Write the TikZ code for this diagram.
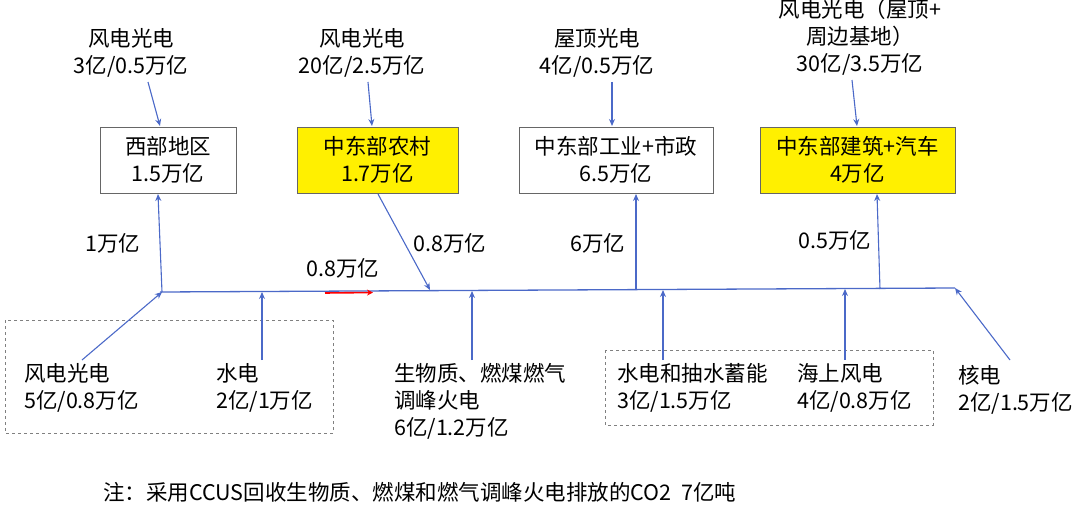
\documentclass[tikz,border=0pt]{standalone}
\usepackage{fontspec}
\setmainfont{Noto Sans CJK SC}
\usetikzlibrary{arrows.meta}
\definecolor{ln}{RGB}{75,105,200}
\definecolor{yl}{RGB}{255,240,0}
\begin{document}
\begin{tikzpicture}[x=1pt,y=-1pt,font=\fontsize{21.5}{27}\selectfont,
 arr/.style={ln,line width=1.1pt,-{Stealth[length=7pt,width=6pt]}},
 box/.style={draw=gray!80!black,line width=0.6pt,minimum height=66pt,align=center,inner sep=0pt},
 txt/.style={align=left,inner sep=0pt,anchor=north west},
 ctr/.style={align=center,inner sep=0pt}]
\useasboundingbox (0,0) rectangle (1080,511);
% main line
\coordinate (L) at (160,292); \coordinate (R) at (955,288);
\draw[ln,line width=1.3pt] (L) -- (R);
\draw[red,line width=1.6pt,-{Stealth[length=6pt,width=6pt]}] (325,293) -- (373,292.5);
% boxes
\node[box,minimum width=136pt] (b1) at (168,160) {西部地区\\1.5万亿};
\node[box,fill=yl,minimum width=161pt] (b2) at (377.5,160) {中东部农村\\1.7万亿};
\node[box,minimum width=194pt] (b3) at (616,160) {中东部工业+市政\\6.5万亿};
\node[box,fill=yl,minimum width=195pt] (b4) at (857.5,160) {中东部建筑+汽车\\4万亿};
% top labels
\node[ctr] (t1) at (131,53) {风电光电\\3亿/0.5万亿};
\node[ctr] (t2) at (362,53) {风电光电\\20亿/2.5万亿};
\node[ctr] (t3) at (597,53) {屋顶光电\\4亿/0.5万亿};
\node[ctr] (t4) at (860,37) {风电光电（屋顶+\\周边基地）\\30亿/3.5万亿};
\draw[arr] (148,82) -- (160,126);
\draw[arr] (368,82) -- (372,126);
\draw[arr] (612,82) -- (612,126);
\draw[arr] (852,80) -- (857,126);
% flows to/from line
\coordinate (p1) at (162,292); \coordinate (p2) at (430,290); \coordinate (p3) at (636,290); \coordinate (p4) at (880,289);
\draw[arr] (p1) -- (158,194);
\draw[arr] (378,194) -- (p2);
\draw[arr] (p3) -- (636,194);
\draw[arr] (p4) -- (877,194);
\node[ctr] (l1) at (113,243) {1万亿};
\node[ctr] (l2) at (450,243) {0.8万亿};
\node[ctr] (l3) at (343,268) {0.8万亿};
\node[ctr] (l4) at (598,243) {6万亿};
\node[ctr] (l5) at (835,240) {0.5万亿};
% bottom
\draw[gray,dashed,line width=0.7pt] (5,320) rectangle (333,433);
\draw[gray,dashed,line width=0.7pt] (605,350) rectangle (933,425);
\node[txt] (s1) at (24,363) {风电光电\\5亿/0.8万亿};
\node[txt] (s2) at (216,363) {水电\\2亿/1万亿};
\node[txt] (s3) at (394,363) {生物质、燃煤燃气\\调峰火电\\6亿/1.2万亿};
\node[txt] (s4) at (617,363) {水电和抽水蓄能\\3亿/1.5万亿};
\node[txt] (s5) at (797,363) {海上风电\\4亿/0.8万亿};
\node[txt] (s6) at (958,365) {核电\\2亿/1.5万亿};
\draw[arr] (82,360) -- (p1);
\draw[arr] (262,360) -- (262,292);
\draw[arr] (472,360) -- (472,291);
\draw[arr] (663,360) -- (663,290);
\draw[arr] (845,360) -- (845,289);
\draw[arr] (1010,360) -- (R);
\node[txt,anchor=west] (note) at (103,492) {注：采用CCUS回收生物质、燃煤和燃气调峰火电排放的CO2\ \ 7亿吨};
\end{tikzpicture}
\end{document}
